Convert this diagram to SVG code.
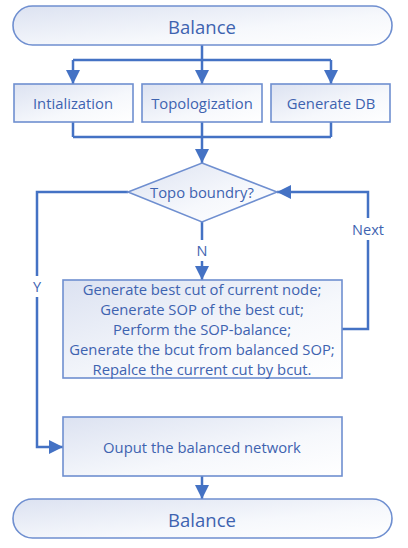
<svg xmlns="http://www.w3.org/2000/svg" width="408" height="548" viewBox="0 0 408 548">
<defs>
<linearGradient id="g" x1="0" y1="0" x2="1" y2="1">
<stop offset="0" stop-color="#DCE2F1"/>
<stop offset="0.6" stop-color="#F6F8FC"/>
<stop offset="1" stop-color="#FFFFFF"/>
</linearGradient>
<marker id="ah" markerUnits="userSpaceOnUse" markerWidth="16" markerHeight="16" viewBox="0 0 16 16" refX="14" refY="8" orient="auto">
<path d="M0,1 L14,8 L0,15 Z" fill="#4472C4"/>
</marker>
<style>
.n{fill:url(#g);stroke:#6F8FD0;stroke-width:1.6}
.t{font-family:"Open Sans","Noto Sans",sans-serif;fill:#3E63B0;text-anchor:middle;dominant-baseline:central;font-size:14.8px}
.h{font-size:18.5px}
.l{font-size:14.5px}
.c{fill:none;stroke:#4472C4;stroke-width:2.5}
.a{marker-end:url(#ah)}
</style>
</defs>
<rect width="408" height="548" fill="#FFFFFF"/>
<g id="connectors">
<path class="c" d="M202,45 V60 M73,60 H331"/>
<path class="c a" d="M73,60 V84"/>
<path class="c a" d="M202,60 V84"/>
<path class="c a" d="M331,60 V84"/>
<path class="c" d="M73,122 V137 M202,122 V137 M331,122 V137 M73,137 H331"/>
<path class="c a" d="M202,137 V163"/>
<path class="c" d="M202,222 V240"/>
<path class="c a" d="M202,261 V280"/>
<path class="c" d="M128,192 H37 V276"/>
<path class="c a" d="M37,297 V447 H63"/>
<path class="c" d="M342,329 H368 V240"/>
<path class="c a" d="M368,218 V192 H277"/>
<path class="c a" d="M202,476 V499"/>
<text class="t l" x="202" y="250">N</text>
<text class="t l" x="37" y="286">Y</text>
<text class="t l" x="368" y="229">Next</text>
</g>
<g id="start">
<rect class="n" x="13" y="6" width="379" height="39" rx="19.5"/>
<text class="t h" x="202" y="26">Balance</text>
</g>
<g id="init">
<rect class="n" x="14" y="84" width="119" height="38"/>
<text class="t" x="73" y="103">Intialization</text>
</g>
<g id="topo">
<rect class="n" x="142" y="84" width="120" height="38"/>
<text class="t" x="202" y="103">Topologization</text>
</g>
<g id="gendb">
<rect class="n" x="271" y="84" width="119" height="38"/>
<text class="t" x="331" y="103">Generate DB</text>
</g>
<g id="decision">
<path class="n" d="M202,163 L277,192 L202,222 L128,192 Z"/>
<text class="t" x="202" y="192">Topo boundry?</text>
</g>
<g id="process">
<rect class="n" x="63" y="280" width="279" height="98"/>
<text class="t" x="202" y="289">Generate best cut of current node;</text>
<text class="t" x="202" y="309">Generate SOP of the best cut;</text>
<text class="t" x="202" y="329">Perform the SOP-balance;</text>
<text class="t" x="202" y="349">Generate the bcut from balanced SOP;</text>
<text class="t" x="202" y="369">Repalce the current cut by bcut.</text>
</g>
<g id="output">
<rect class="n" x="63" y="417" width="279" height="59"/>
<text class="t" x="202" y="447">Ouput the balanced network</text>
</g>
<g id="end">
<rect class="n" x="13" y="499" width="379" height="39" rx="19.5"/>
<text class="t h" x="202" y="519">Balance</text>
</g>
</svg>
